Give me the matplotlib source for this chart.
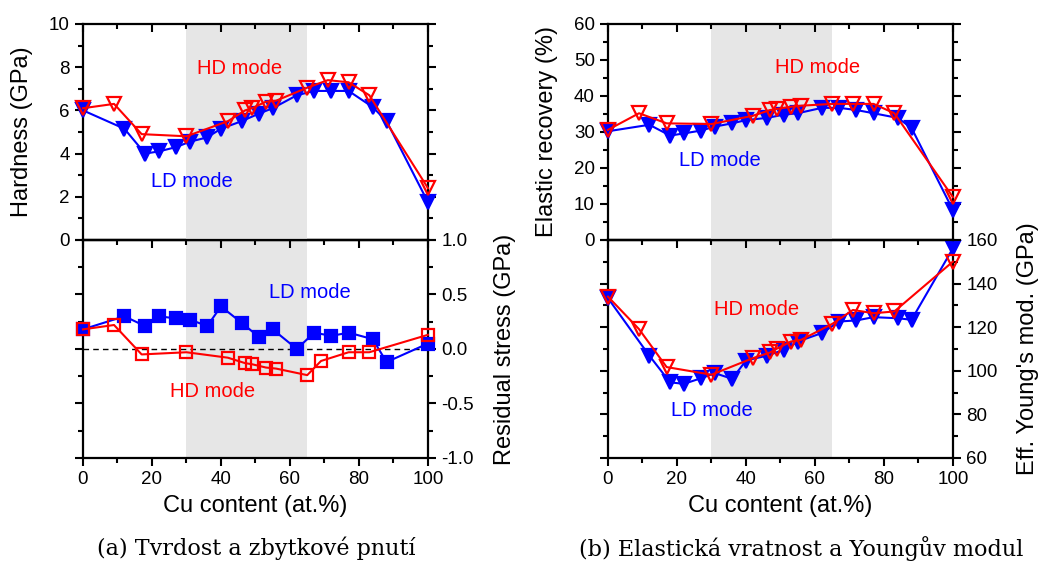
import matplotlib
matplotlib.use('Agg')
import matplotlib.pyplot as plt
from matplotlib.ticker import MultipleLocator, FormatStrFormatter

plt.rcParams['font.family'] = ['Liberation Sans', 'DejaVu Sans']
plt.rcParams['axes.unicode_minus'] = False

RED = '#ff0000'
BLUE = '#0000ff'

# Cu content (at.%) of the samples
x_hd = [0, 9, 17, 30, 42, 47, 49, 53, 56, 65, 71, 77, 83, 100]
x_hd_rs = [0, 9, 17, 30, 42, 47, 49, 53, 56, 65, 69, 77, 83, 100]
x_ld = [0, 12, 18, 22, 27, 31, 36, 40, 46, 51, 55, 62, 67, 72, 77, 84, 88, 100]

# hardness (GPa)
hard_hd = [6.1, 6.3, 4.9, 4.8, 5.5, 6.0, 6.1, 6.4, 6.45, 7.05, 7.4, 7.3, 6.7, 2.4]
hard_ld = [6.0, 5.15, 4.0, 4.1, 4.3, 4.55, 4.75, 5.15, 5.5, 5.85, 6.1, 6.7,
           6.9, 6.9, 6.9, 6.15, 5.5, 1.75]

# residual stress (GPa)
rs_hd = [0.18, 0.22, -0.05, -0.03, -0.08, -0.13, -0.14, -0.17, -0.18, -0.24,
         -0.11, -0.03, -0.03, 0.13]
rs_ld = [0.18, 0.30, 0.21, 0.30, 0.28, 0.27, 0.21, 0.39, 0.24, 0.11, 0.18, 0.0,
         0.15, 0.12, 0.15, 0.09, -0.12, 0.05]

# elastic recovery (%)
er_hd = [30.6, 35.2, 32.4, 32.2, 34.5, 36.1, 36.4, 37.0, 37.3, 37.8, 37.8, 37.8,
         35.2, 11.9]
er_ld = [30.2, 32.0, 29.0, 29.6, 30.4, 31.5, 32.4, 33.3, 33.9, 34.8, 35.2, 36.7,
         36.7, 36.1, 35.2, 33.9, 31.1, 8.3]

# effective Young's modulus (GPa)
ym_hd = [134.0, 119.1, 101.7, 98.2, 105.8, 108.4, 110.2, 113.4, 114.2, 121.5,
         127.9, 126.4, 127.2, 150.1]
ym_ld = [133.3, 106.9, 94.7, 94.0, 96.6, 98.9, 96.3, 104.7, 106.9, 109.6, 113.4,
         117.3, 122.6, 123.1, 124.6, 124.1, 123.4, 156.2]

TICK_FS = 13.5
LABEL_FS = 17
NOTE_FS = 14.5


def base(ax):
    ax.set_xlim(0, 100)
    ax.xaxis.set_major_locator(MultipleLocator(20))
    ax.xaxis.set_minor_locator(MultipleLocator(10))
    ax.axvspan(30, 65, color='#e6e6e6', lw=0, zorder=0)
    for s in ax.spines.values():
        s.set_linewidth(1.6)
    ax.tick_params(which='both', width=1.5, labelsize=TICK_FS)
    ax.tick_params(which='major', length=6)
    ax.tick_params(which='minor', length=3.5)
    ax.tick_params(axis='y', which='both', direction='out', left=True, right=True)


def top_panel(ax):
    base(ax)
    ax.tick_params(axis='x', which='both', direction='in', top=True, bottom=False,
                   labelbottom=False)
    ax.tick_params(axis='y', labelleft=True, labelright=False)


def bottom_panel(ax):
    base(ax)
    ax.tick_params(axis='x', which='both', direction='out', top=False, bottom=True)
    ax.tick_params(axis='y', labelleft=False, labelright=True)
    sec = ax.secondary_xaxis('top')
    sec.xaxis.set_major_locator(MultipleLocator(20))
    sec.xaxis.set_minor_locator(MultipleLocator(10))
    sec.tick_params(which='both', direction='in', width=1.5, labeltop=False)
    sec.tick_params(which='major', length=6)
    sec.tick_params(which='minor', length=3.5)
    sec.spines['top'].set_linewidth(1.6)
    ax.set_xlabel('Cu content (at.%)', fontsize=LABEL_FS)
    ax.xaxis.set_label_coords(0.5, -0.17)


def series(ax, x, y, color, marker, filled, ms):
    ax.plot(x, y, '-', color=color, lw=1.5, marker=marker, ms=ms,
            mfc=color if filled else 'none', mec=color, mew=1.6,
            clip_on=False, zorder=3)


fig = plt.figure(figsize=(10.4, 5.68), dpi=100)
ax1 = fig.add_axes([0.0798, 0.5775, 0.3317, 0.3803])
ax2 = fig.add_axes([0.0798, 0.1937, 0.3317, 0.3838])
ax3 = fig.add_axes([0.5846, 0.5775, 0.3317, 0.3803])
ax4 = fig.add_axes([0.5846, 0.1937, 0.3317, 0.3838])

# (a) hardness
top_panel(ax1)
ax1.set_ylim(0, 10)
ax1.yaxis.set_major_locator(MultipleLocator(2))
ax1.yaxis.set_minor_locator(MultipleLocator(1))
series(ax1, x_ld, hard_ld, BLUE, 'v', True, 10)
series(ax1, x_hd, hard_hd, RED, 'v', False, 10)
ax1.text(45.5, 7.95, 'HD mode', color=RED, fontsize=NOTE_FS, ha='center', va='center')
ax1.text(31.5, 2.7, 'LD mode', color=BLUE, fontsize=NOTE_FS, ha='center', va='center')
ax1.set_ylabel('Hardness (GPa)', fontsize=LABEL_FS)
ax1.yaxis.set_label_coords(-0.145, 0.5)

# (a) residual stress
bottom_panel(ax2)
ax2.set_ylim(-1, 1)
ax2.yaxis.set_major_locator(MultipleLocator(0.5))
ax2.yaxis.set_minor_locator(MultipleLocator(0.25))
ax2.yaxis.set_major_formatter(FormatStrFormatter('%.1f'))
ax2.axhline(0, color='black', lw=1, ls=(0, (4, 3)), zorder=1)
series(ax2, x_ld, rs_ld, BLUE, 's', True, 8.5)
series(ax2, x_hd_rs, rs_hd, RED, 's', False, 8)
ax2.text(65.8, 0.52, 'LD mode', color=BLUE, fontsize=NOTE_FS, ha='center', va='center')
ax2.text(37.7, -0.39, 'HD mode', color=RED, fontsize=NOTE_FS, ha='center', va='center')
ax2.yaxis.set_label_position('right')
ax2.set_ylabel('Residual stress (GPa)', fontsize=LABEL_FS)
ax2.yaxis.set_label_coords(1.19, 0.5)

# (b) elastic recovery
top_panel(ax3)
ax3.set_ylim(0, 60)
ax3.yaxis.set_major_locator(MultipleLocator(10))
ax3.yaxis.set_minor_locator(MultipleLocator(5))
series(ax3, x_ld, er_ld, BLUE, 'v', True, 10)
series(ax3, x_hd, er_hd, RED, 'v', False, 10)
ax3.text(60.8, 47.9, 'HD mode', color=RED, fontsize=NOTE_FS, ha='center', va='center')
ax3.text(32.4, 22, 'LD mode', color=BLUE, fontsize=NOTE_FS, ha='center', va='center')
ax3.set_ylabel('Elastic recovery (%)', fontsize=LABEL_FS)
ax3.yaxis.set_label_coords(-0.145, 0.5)

# (b) Young's modulus
bottom_panel(ax4)
ax4.set_ylim(60, 160)
ax4.yaxis.set_major_locator(MultipleLocator(20))
ax4.yaxis.set_minor_locator(MultipleLocator(10))
series(ax4, x_ld, ym_ld, BLUE, 'v', True, 10)
series(ax4, x_hd, ym_hd, RED, 'v', False, 10)
ax4.text(43.1, 128, 'HD mode', color=RED, fontsize=NOTE_FS, ha='center', va='center')
ax4.text(30.1, 82, 'LD mode', color=BLUE, fontsize=NOTE_FS, ha='center', va='center')
ax4.yaxis.set_label_position('right')
ax4.set_ylabel("Eff. Young's mod. (GPa)", fontsize=LABEL_FS)
ax4.yaxis.set_label_coords(1.186, 0.5)

# top panels sit above the bottom ones so their markers are not hidden
for ax in (ax1, ax3):
    ax.set_zorder(2)
    ax.patch.set_visible(False)

cap = dict(fontsize=16, ha='center', va='center', family=['DejaVu Serif'])
fig.text(0.246, 0.035, '(a) Tvrdost a zbytkové pnutí', **cap)
fig.text(0.77, 0.035, '(b) Elastická vratnost a Youngův modul', **cap)

fig.savefig('out.png', dpi=100)
